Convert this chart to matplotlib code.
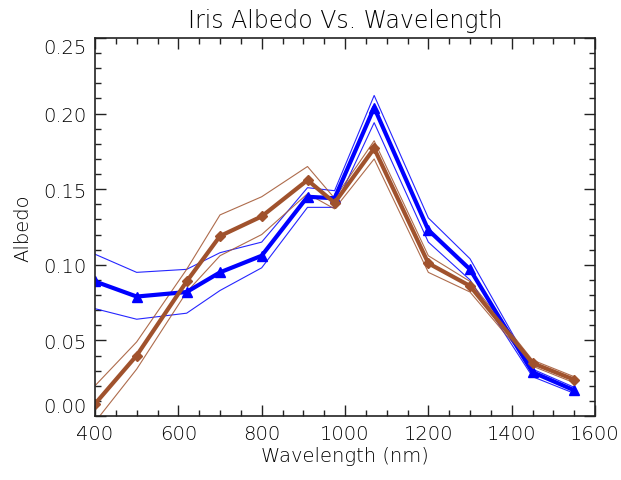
import numpy as np
import matplotlib
matplotlib.use('Agg')
import matplotlib.pyplot as plt

# wavelengths (nm)
wl = [400, 500, 620, 700, 800, 910, 975, 1070, 1200, 1300, 1450, 1550]

# blue series (mean, upper, lower)
blue = [0.089, 0.079, 0.082, 0.095, 0.106, 0.145, 0.144, 0.204, 0.123, 0.097, 0.029, 0.017]
blue_hi = [0.107, 0.095, 0.097, 0.108, 0.115, 0.151, 0.149, 0.212, 0.131, 0.104, 0.031, 0.019]
blue_lo = [0.071, 0.064, 0.068, 0.083, 0.098, 0.138, 0.138, 0.194, 0.115, 0.090, 0.026, 0.015]

# brown series (mean, upper, lower)
brown = [0.008, 0.040, 0.089, 0.119, 0.132, 0.156, 0.141, 0.177, 0.101, 0.086, 0.035, 0.024]
brown_hi = [0.020, 0.049, 0.097, 0.133, 0.145, 0.165, 0.144, 0.182, 0.106, 0.089, 0.037, 0.026]
brown_lo = [-0.004, 0.031, 0.082, 0.106, 0.120, 0.147, 0.137, 0.170, 0.095, 0.082, 0.033, 0.022]

plt.rcParams['font.family'] = 'DejaVu Sans'
plt.rcParams['font.weight'] = 'light'
plt.rcParams['axes.titleweight'] = 'light'
plt.rcParams['axes.labelweight'] = 'light'
txt = '#000000'

fig = plt.figure(figsize=(6.21, 4.81), dpi=100)
ax = fig.add_axes([95/621, 1 - 417/481, 500/621, 378/481])

bc = '#0000ff'
rc = '#a0522d'
ax.plot(wl, blue_hi, color=bc, lw=0.8, alpha=0.85)
ax.plot(wl, blue_lo, color=bc, lw=0.8, alpha=0.85)
ax.plot(wl, brown_hi, color=rc, lw=0.8, alpha=0.85)
ax.plot(wl, brown_lo, color=rc, lw=0.8, alpha=0.85)
ax.plot(wl, blue, color=bc, lw=3, marker='^', ms=7)
ax.plot(wl, brown, color=rc, lw=3, marker='D', ms=5)

ax.set_xlim(400, 1600)
ax.set_ylim(0, 0.25)
ax.set_xticks(np.arange(400, 1601, 200))
ax.set_xticks(np.arange(400, 1601, 50), minor=True)
ax.set_yticks(np.arange(0, 0.251, 0.05))
ax.set_yticks(np.arange(0, 0.251, 0.01), minor=True)
ax.set_yticklabels(['%.2f' % v for v in np.arange(0, 0.251, 0.05)])
ax.tick_params(which='both', direction='in', top=True, right=True, colors='#222222',
               labelcolor=txt, labelsize=14, width=1)
ax.tick_params(which='major', length=8, pad=6)
ax.tick_params(which='minor', length=4)
ylabs = ax.get_yticklabels()
ylabs[0].set_va('bottom')
ylabs[-1].set_va('top')
for s in ax.spines.values():
    s.set_color('#222222')
    s.set_linewidth(1.2)

ax.set_title('Iris Albedo Vs. Wavelength', fontsize=17, color=txt, pad=8)
ax.set_xlabel('Wavelength (nm)', fontsize=14, color=txt, labelpad=2)
ax.set_ylabel('Albedo', fontsize=14, color=txt, labelpad=8)

fig.savefig('out.png', dpi=100)
